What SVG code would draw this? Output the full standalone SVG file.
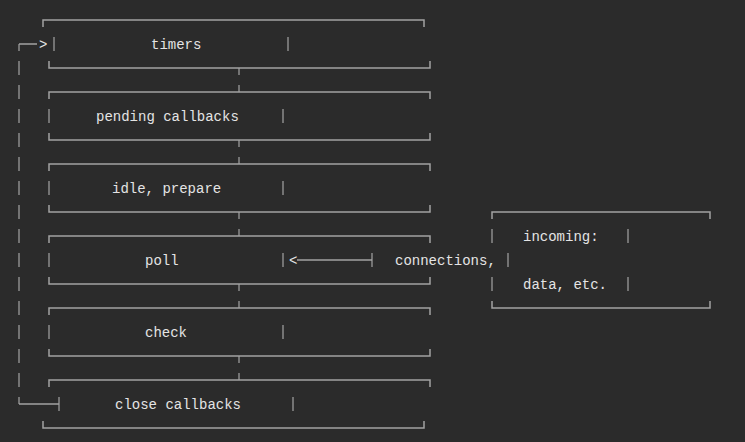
<svg xmlns="http://www.w3.org/2000/svg" width="745" height="442" viewBox="0 0 745 442">
<style>
.ln{fill:none;stroke:#a3a3a3;stroke-width:1.5}
.bar{fill:none;stroke:#a3a3a3;stroke-width:1.2}
.t{font-family:"Liberation Mono","DejaVu Sans Mono",monospace;font-size:14px;fill:#e4e4e4}
</style>
<rect width="745" height="442" fill="#2b2b2b"/>
<g id="timers">
<path class="ln" d="M43,27V20H424V27"/>
<path class="bar" d="M54,37V51M288,37V51"/>
<path class="ln" d="M49,61V68H430V61"/>
<text class="t" x="151" y="49">timers</text>
</g>
<g id="pending-callbacks">
<path class="ln" d="M49,99V92H430V99"/>
<path class="bar" d="M49,109V123M283,109V123"/>
<path class="ln" d="M49,133V140H430V133"/>
<text class="t" x="96" y="121">pending callbacks</text>
</g>
<g id="idle-prepare">
<path class="ln" d="M49,171V164H430V171"/>
<path class="bar" d="M49,181V195M283,181V195"/>
<path class="ln" d="M49,205V212H430V205"/>
<text class="t" x="112" y="193">idle, prepare</text>
</g>
<g id="poll">
<path class="ln" d="M49,243V236H430V243"/>
<path class="bar" d="M49,253V267M283,253V267"/>
<path class="ln" d="M49,277V284H430V277"/>
<text class="t" x="145" y="265">poll</text>
</g>
<g id="check">
<path class="ln" d="M49,315V308H430V315"/>
<path class="bar" d="M49,325V339M283,325V339"/>
<path class="ln" d="M49,349V356H430V349"/>
<text class="t" x="145" y="337">check</text>
</g>
<g id="close-callbacks">
<path class="ln" d="M49,387V380H430V387"/>
<path class="bar" d="M59,397V411M293,397V411"/>
<path class="ln" d="M43,421V428H424V421"/>
<text class="t" x="115" y="409">close callbacks</text>
</g>
<g id="incoming">
<path class="ln" d="M492,219V212H710V219"/>
<path class="bar" d="M492,229V243M628,229V243M508,253V267M492,277V291M628,277V291"/>
<path class="ln" d="M492,301V308H710V301"/>
<text class="t" x="523" y="241">incoming:</text>
<text class="t" x="395" y="265">connections,</text>
<text class="t" x="523" y="289">data, etc.</text>
</g>
<g id="connectors">
<path class="bar" d="M239,68V75M239,85V92M239,140V147M239,157V164M239,212V219M239,229V236M239,284V291M239,301V308M239,356V363M239,373V380"/>
<path class="bar" d="M19,44V404" stroke-dasharray="14 10" stroke-dashoffset="7"/>
<path class="ln" d="M19,44H37M19,404H59"/>
<text class="t" x="39" y="49">&gt;</text>
<path class="ln" d="M297,260H372"/>
<path class="bar" d="M372,253V267"/>
<text class="t" x="289" y="265">&lt;</text>
</g>
</svg>
